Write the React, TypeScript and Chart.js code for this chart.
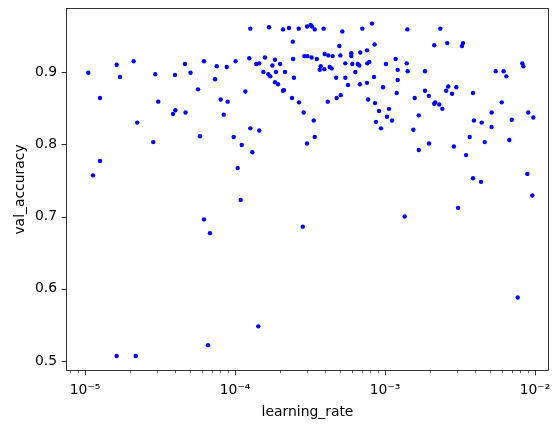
import { useEffect, useRef } from 'react';
import { Chart, registerables } from 'chart.js';

Chart.register(...registerables);

// learning rates (x, log scale)
const learningRate = [
  1.052e-5, 1.626e-5, 2.11e-5, 1.711e-5, 2.94e-5, 3.98e-5, 4.64e-5, 5.05e-5, 1.259e-5, 3.08e-5,
  4.0e-5, 3.86e-5, 4.68e-5, 2.23e-5,
  1.265e-4, 1.686e-4, 2.09e-4, 2.29e-4, 2.66e-4, 3.02e-4, 3.19e-4, 3.26e-4, 3.40e-4, 2.43e-4,
  6.21e-5, 7.55e-5, 8.81e-5, 1.01e-4, 1.245e-4, 1.585e-4, 1.387e-4, 1.452e-4, 1.848e-4, 1.774e-4,
  2.0e-4, 2.44e-4, 2.90e-4, 3.04e-4, 3.24e-4, 1.545e-4, 1.667e-4, 1.719e-4, 1.876e-4, 2.154e-4,
  7.36e-5, 2.47e-4, 1.848e-4, 1.935e-4, 5.67e-5, 1.172e-4, 2.12e-4, 2.09e-4, 8.03e-5, 8.94e-5,
  2.40e-4, 2.67e-4, 8.41e-5, 2.87e-4, 1.265e-4, 1.452e-4,
  3.90e-4, 5.19e-4, 7.06e-4, 8.19e-4, 1.409e-3, 4.96e-4, 8.53e-4, 3.51e-4, 3.96e-4, 4.19e-4,
  4.48e-4, 5.04e-4, 5.96e-4, 5.96e-4, 6.84e-4, 7.59e-4, 3.73e-4, 3.67e-4, 3.94e-4, 4.28e-4,
  4.41e-4, 5.44e-4, 6.05e-4, 6.58e-4, 6.74e-4, 7.62e-4, 7.86e-4, 1.015e-3, 1.178e-3, 1.396e-3,
  6.34e-4, 1.215e-3, 1.416e-3, 1.848e-3, 4.73e-4, 5.44e-4, 8.45e-4, 1.215e-3, 5.67e-4, 6.81e-4,
  7.59e-4, 9.70e-4, 1.197e-3, 1.848e-3, 1.959e-3, 1.578e-3, 4.15e-4, 4.76e-4, 5.07e-4, 7.71e-4,
  8.58e-4, 9.12e-4, 1.063e-3, 1.031e-3, 1.114e-3, 8.71e-4, 9.40e-4, 1.679e-3, 1.545e-3, 3.35e-4,
  2.34e-3, 2.13e-3, 2.60e-3, 3.31e-3, 3.26e-3, 5.47e-3, 6.18e-3, 6.44e-3, 8.23e-3, 8.36e-3,
  2.64e-3, 2.56e-3, 2.99e-3, 2.80e-3, 3.86e-3, 2.16e-3, 2.13e-3, 2.30e-3, 2.41e-3, 6.0e-3,
  5.14e-3, 9.02e-3, 9.75e-3, 7.0e-3, 3.92e-3, 4.41e-3, 5.14e-3,
  2.85e-5, 1.259e-5, 1.13e-5,
  5.84e-5, 9.80e-5, 1.109e-4, 1.304e-4, 3.02e-4, 1.042e-4, 1.091e-4, 6.21e-5, 6.81e-5, 2.83e-4,
  3.40e-4, 1.965e-3, 1.679e-3, 1.353e-3,
  3.67e-3, 2.88e-3, 4.62e-3, 6.74e-3, 3.47e-3, 3.86e-3, 4.37e-3, 8.89e-3, 9.59e-3, 3.07e-3,
  1.626e-5, 2.18e-5, 1.43e-4, 6.61e-5, 7.67e-3,
];

// validation accuracy (y)
const valAccuracy = [
  0.899, 0.910, 0.915, 0.893, 0.897, 0.896, 0.911, 0.899, 0.864, 0.859,
  0.847, 0.842, 0.844, 0.830,
  0.960, 0.962, 0.959, 0.961, 0.960, 0.963, 0.965, 0.963, 0.959, 0.942,
  0.915, 0.908, 0.907, 0.915, 0.919, 0.920, 0.911, 0.912, 0.917, 0.909,
  0.911, 0.918, 0.922, 0.922, 0.920, 0.900, 0.897, 0.894, 0.900, 0.900,
  0.890, 0.892, 0.886, 0.883, 0.876, 0.873, 0.875, 0.874, 0.862, 0.859,
  0.864, 0.858, 0.841, 0.844, 0.822, 0.819,
  0.960, 0.956, 0.960, 0.967, 0.959, 0.936, 0.938, 0.918, 0.925, 0.923,
  0.922, 0.923, 0.926, 0.922, 0.927, 0.930, 0.908, 0.903, 0.904, 0.907,
  0.905, 0.912, 0.911, 0.911, 0.909, 0.912, 0.914, 0.911, 0.918, 0.912,
  0.900, 0.903, 0.901, 0.901, 0.892, 0.892, 0.893, 0.889, 0.882, 0.883,
  0.885, 0.879, 0.871, 0.874, 0.867, 0.864, 0.859, 0.864, 0.868, 0.862,
  0.857, 0.846, 0.849, 0.838, 0.833, 0.831, 0.822, 0.840, 0.820, 0.833,
  0.960, 0.937, 0.940, 0.940, 0.936, 0.901, 0.901, 0.894, 0.912, 0.908,
  0.880, 0.874, 0.879, 0.870, 0.871, 0.858, 0.856, 0.855, 0.849, 0.858,
  0.844, 0.844, 0.837, 0.834, 0.833, 0.830, 0.824,
  0.803, 0.777, 0.757,
  0.811, 0.810, 0.799, 0.789, 0.801, 0.767, 0.723, 0.696, 0.677, 0.686,
  0.810, 0.801, 0.792, 0.700,
  0.810, 0.797, 0.803, 0.806, 0.785, 0.753, 0.748, 0.759, 0.729, 0.712,
  0.507, 0.507, 0.548, 0.522, 0.588,
];

const xMajorTicks = [1e-5, 1e-4, 1e-3, 1e-2];
const xTickLabels = ['10\u207B\u2075', '10\u207B\u2074', '10\u207B\u00B3', '10\u207B\u00B2'];
const xMinorDecades = [1e-6, 1e-5, 1e-4, 1e-3, 1e-2];
const xMinorMultipliers = [2, 3, 4, 5, 6, 7, 8, 9];
const yTicks = [0.5, 0.6, 0.7, 0.8, 0.9];
const yTickLabels = ['0.5', '0.6', '0.7', '0.8', '0.9'];

const X_MIN = 7.47e-6;
const X_MAX = 1.24e-2;
const Y_MIN = 0.4862;
const Y_MAX = 0.9886;

const FONT = 'DejaVu Sans';
const FONT_SIZE = 13.9;

const framePlugin = {
  id: 'mplFrame',
  afterDraw(chart: any) {
    const { ctx, chartArea: a, scales } = chart;
    const xs = scales.x;
    const ys = scales.y;
    const left = Math.round(a.left) + 0.5;
    const right = Math.round(a.right) - 0.5;
    const top = Math.round(a.top) + 0.5;
    const bottom = Math.round(a.bottom) - 0.5;
    ctx.save();
    ctx.strokeStyle = '#000';
    const line = (x1: number, y1: number, x2: number, y2: number, w: number) => {
      ctx.lineWidth = w;
      ctx.beginPath();
      ctx.moveTo(x1, y1);
      ctx.lineTo(x2, y2);
      ctx.stroke();
    };
    xMinorDecades.forEach((d) => {
      xMinorMultipliers.forEach((m) => {
        const v = d * m;
        if (v < X_MIN || v > X_MAX) return;
        const p = Math.round(xs.getPixelForValue(v)) + 0.5;
        line(p, bottom, p, bottom + 2.8, 0.6);
      });
    });
    xMajorTicks.forEach((v) => {
      const p = Math.round(xs.getPixelForValue(v)) + 0.5;
      line(p, bottom, p, bottom + 4.9, 0.8);
    });
    yTicks.forEach((v) => {
      const p = Math.round(ys.getPixelForValue(v)) + 0.5;
      line(left, p, left - 4.9, p, 0.8);
    });
    ctx.lineWidth = 0.8;
    ctx.strokeRect(left, top, right - left, bottom - top);
    ctx.restore();
  },
};

export default function App() {
  const canvasRef = useRef<HTMLCanvasElement | null>(null);

  useEffect(() => {
    document.body.style.margin = '0';
    const canvas = canvasRef.current;
    if (!canvas) return;
    const points = learningRate.map((x, i) => ({ x, y: valAccuracy[i] }));
    const chart = new Chart(canvas, {
      type: 'scatter',
      data: {
        datasets: [
          {
            data: points,
            backgroundColor: '#0000ff',
            borderWidth: 0,
            pointRadius: 2.2,
            pointHoverRadius: 2.2,
          },
        ],
      },
      plugins: [framePlugin],
      options: {
        animation: false,
        responsive: false,
        devicePixelRatio: 1,
        layout: { padding: { top: 8, right: 8, left: 0, bottom: 0 } },
        plugins: { legend: { display: false }, tooltip: { enabled: false } },
        scales: {
          x: {
            type: 'logarithmic',
            min: X_MIN,
            max: X_MAX,
            grid: { display: false, drawTicks: false },
            border: { display: false },
            afterBuildTicks: (axis: any) => {
              axis.ticks = xMajorTicks.map((v) => ({ value: v }));
            },
            afterFit: (axis: any) => {
              axis.height = 57;
              axis.paddingLeft = 0;
              axis.paddingRight = 0;
            },
            ticks: {
              autoSkip: false,
              maxRotation: 0,
              minRotation: 0,
              padding: 11,
              color: '#000',
              font: { family: FONT, size: FONT_SIZE },
              callback: (_v: any, i: number) => xTickLabels[i],
            },
            title: {
              display: true,
              text: 'learning_rate',
              color: '#000',
              font: { family: FONT, size: FONT_SIZE },
              padding: { top: 0, bottom: 7 },
            },
          },
          y: {
            type: 'linear',
            min: Y_MIN,
            max: Y_MAX,
            grid: { display: false, drawTicks: false },
            border: { display: false },
            afterBuildTicks: (axis: any) => {
              axis.ticks = yTicks.map((v) => ({ value: v }));
            },
            afterFit: (axis: any) => {
              axis.width = 66;
              axis.paddingTop = 0;
              axis.paddingBottom = 0;
            },
            ticks: {
              autoSkip: false,
              padding: 9,
              color: '#000',
              font: { family: FONT, size: FONT_SIZE },
              callback: (_v: any, i: number) => yTickLabels[i],
            },
            title: {
              display: true,
              text: 'val_accuracy',
              color: '#000',
              font: { family: FONT, size: FONT_SIZE },
              padding: { top: 12, bottom: 0 },
            },
          },
        },
      },
    });
    return () => chart.destroy();
  }, []);

  return (
    <div style={{ position: 'fixed', left: 0, top: 0, width: 557, height: 428, background: '#fff' }}>
      <canvas ref={canvasRef} width={557} height={428} style={{ width: 557, height: 428 }} />
    </div>
  );
}
